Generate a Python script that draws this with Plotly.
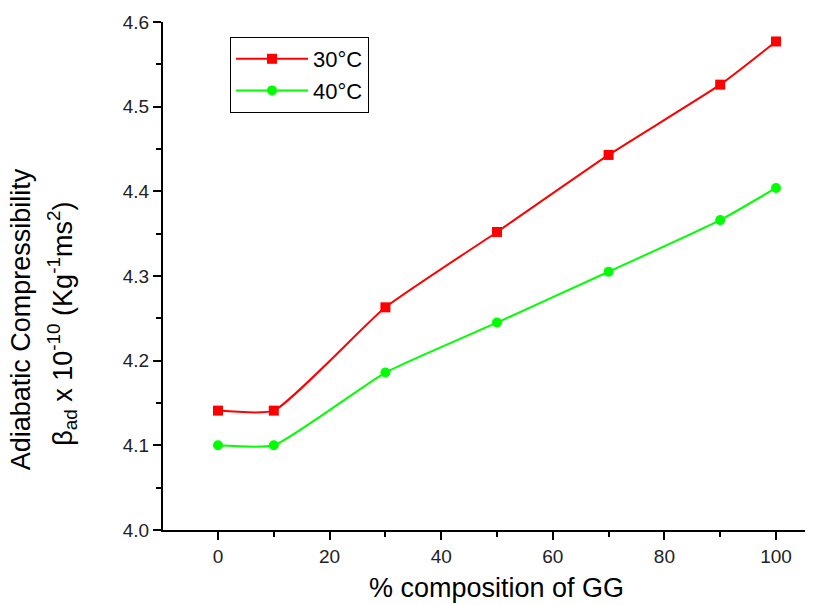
import plotly.graph_objects as go

composition = [0, 10, 30, 50, 70, 90, 100]
beta_30 = [4.141, 4.141, 4.263, 4.352, 4.443, 4.526, 4.577]
beta_40 = [4.100, 4.100, 4.186, 4.245, 4.305, 4.366, 4.404]
series_names = ["30°C", "40°C"]
x_tick_vals = [0, 20, 40, 60, 80, 100]
y_tick_vals = [4.0, 4.1, 4.2, 4.3, 4.4, 4.5, 4.6]
x_tick_text = ["0", "20", "40", "60", "80", "100"]
y_tick_text = ["4.0", "4.1", "4.2", "4.3", "4.4", "4.5", "4.6"]
x_title = "% composition of GG"
y_title_1 = "Adiabatic Compressibility"
y_title_2 = "β<sub>ad</sub> x 10<sup>-10</sup> (Kg<sup>-1</sup>ms<sup>2</sup>)"

FONT = "Liberation Sans, Arial, sans-serif"
TICKFONT = dict(size=19, color="#222", family=FONT)

fig = go.Figure()
fig.add_trace(go.Scatter(
    x=composition, y=beta_30, name=series_names[0], mode="lines+markers",
    line=dict(color="#ff0000", width=2, shape="spline", smoothing=0.45),
    marker=dict(symbol="square", size=10, color="#ff0000"),
))
fig.add_trace(go.Scatter(
    x=composition, y=beta_40, name=series_names[1], mode="lines+markers",
    line=dict(color="#00ff00", width=2, shape="spline", smoothing=0.45),
    marker=dict(symbol="circle", size=10, color="#00ff00"),
))

fig.update_layout(
    width=819, height=605,
    margin=dict(l=163, r=14, t=22, b=75),
    paper_bgcolor="white", plot_bgcolor="white",
    font=dict(family=FONT, color="#000", size=19),
    showlegend=True,
    legend=dict(
        x=0.1044, y=0.9705, xanchor="left", yanchor="top",
        bordercolor="#000", borderwidth=1, bgcolor="white",
        font=dict(size=22, family=FONT, color="#000"),
        itemwidth=72, tracegroupgap=0,
    ),
    xaxis=dict(
        range=[-9.86, 105.2], tickmode="array", tickvals=x_tick_vals, ticktext=x_tick_text,
        ticks="outside", ticklen=8, tickwidth=2, tickcolor="#000",
        minor=dict(dtick=10, tick0=0, ticks="outside", ticklen=5, tickwidth=2, tickcolor="#000"),
        showline=True, linewidth=2, linecolor="#000", showgrid=False, zeroline=False,
        tickfont=TICKFONT,
    ),
    yaxis=dict(
        range=[4.0, 4.6], tickmode="array", tickvals=y_tick_vals, ticktext=y_tick_text,
        ticks="outside", ticklen=8, tickwidth=2, tickcolor="#000",
        minor=dict(dtick=0.05, tick0=4.0, ticks="outside", ticklen=5, tickwidth=2, tickcolor="#000"),
        showline=True, linewidth=2, linecolor="#000", showgrid=False, zeroline=False,
        tickfont=TICKFONT,
    ),
    annotations=[
        dict(text=x_title, xref="paper", yref="paper", x=0.52, y=-0.114,
             xanchor="center", yanchor="middle", showarrow=False,
             font=dict(size=27, family=FONT, color="#000")),
        dict(text=y_title_1, xref="paper", yref="paper", x=-0.221, y=0.415,
             xanchor="center", yanchor="middle", showarrow=False, textangle=-90,
             font=dict(size=27, family=FONT, color="#000")),
        dict(text=y_title_2, xref="paper", yref="paper", x=-0.1565, y=0.405,
             xanchor="center", yanchor="middle", showarrow=False, textangle=-90,
             font=dict(size=27, family=FONT, color="#000")),
    ],
)

fig.write_html("out.html")
